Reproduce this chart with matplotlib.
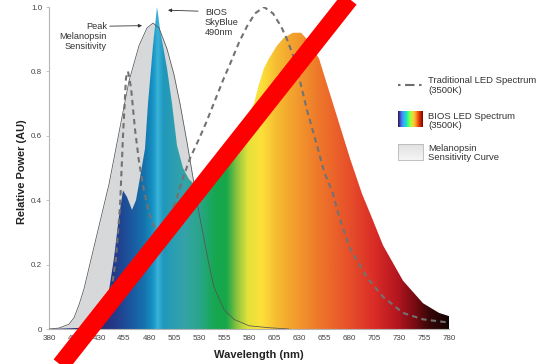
import numpy as np
import matplotlib
matplotlib.use('Agg')
import matplotlib.pyplot as plt
from matplotlib.colors import LinearSegmentedColormap, Normalize
from matplotlib.lines import Line2D

plt.rcParams['font.family'] = ['Liberation Sans', 'DejaVu Sans']

# melanopsin sensitivity curve
wl_mel = [380, 390, 400, 405, 410, 415, 420, 430, 440, 450, 460, 470, 478, 484, 490, 498,
          505, 511, 518, 524, 530, 535, 540, 545, 555, 565, 580, 600, 620]
mel = [0.0, 0.003, 0.015, 0.035, 0.075, 0.125, 0.19, 0.32, 0.45, 0.61, 0.77, 0.88, 0.935, 0.95,
       0.935, 0.87, 0.79, 0.70, 0.58, 0.47, 0.36, 0.28, 0.20, 0.13, 0.06, 0.03, 0.01, 0.004, 0.0]

# BIOS LED spectrum (3500K)
wl_bios = [380, 425, 430, 435, 440, 445, 450, 454, 458, 463, 467, 471, 476, 479, 484, 487, 488,
           489, 491, 498, 503, 508, 514, 520, 525, 532, 540, 550, 560, 570, 580, 585, 590, 595,
           600, 608, 615, 624, 632, 638, 644, 650, 658, 668, 681, 693, 701, 714, 734, 754, 770, 780]
bios = [0.0, 0.005, 0.015, 0.05, 0.12, 0.22, 0.35, 0.43, 0.41, 0.37, 0.40, 0.47, 0.56, 0.70, 0.88,
        0.97, 1.0, 0.98, 0.93, 0.81, 0.70, 0.57, 0.50, 0.465, 0.45, 0.43, 0.44, 0.49, 0.56, 0.62,
        0.67, 0.70, 0.76, 0.81, 0.84, 0.88, 0.905, 0.92, 0.92, 0.90, 0.87, 0.84, 0.76, 0.66, 0.53,
        0.42, 0.36, 0.26, 0.15, 0.08, 0.05, 0.04]

# traditional LED spectrum (3500K)
wl_trad = [420, 430, 437, 442, 447, 451, 454, 457, 459, 462, 466, 470, 475, 480, 486, 492, 500,
           507, 513, 521, 530, 537, 546, 555, 562, 570, 578, 586, 595, 604, 612, 618, 624, 631,
           638, 648, 655, 664, 670, 681, 698, 714, 734, 754, 780]
trad = [0.0, 0.01, 0.05, 0.11, 0.22, 0.38, 0.60, 0.78, 0.80, 0.75, 0.62, 0.52, 0.43, 0.36, 0.31,
        0.31, 0.35, 0.40, 0.46, 0.53, 0.59, 0.64, 0.71, 0.78, 0.83, 0.89, 0.94, 0.98, 1.0, 0.98,
        0.94, 0.90, 0.85, 0.77, 0.68, 0.57, 0.49, 0.42, 0.35, 0.25, 0.16, 0.10, 0.05, 0.03, 0.02]

x_ticks = np.arange(380, 781, 25)
y_ticks = [0, 0.2, 0.4, 0.6, 0.8, 1.0]
y_ticklabels = ['0', '0.2', '0.4', '0.6', '0.8', '1.0']

# spectral colours of the BIOS fill
spec_nm = [380, 430, 445, 460, 475, 483, 488, 494, 502, 515, 530, 545, 557, 566, 578, 592, 606,
           628, 652, 680, 705, 728, 745, 760, 780]
spec_col = ['#262b76', '#262b76', '#243a8a', '#1c559e', '#1574ad', '#1592c2', '#3ab3da', '#1f97bd',
            '#2a9db3', '#35a3a8', '#2aa58a', '#16a850', '#17a64a', '#7fbf40', '#e2e23a', '#fde13a',
            '#f7be32', '#f29a2d', '#ee742a', '#e74f2a', '#da2d27', '#b5161f', '#7a0c12', '#3a0707',
            '#120404']
cmap_spec = LinearSegmentedColormap.from_list(
    'spec', [((n - 380) / 400, c) for n, c in zip(spec_nm, spec_col)])

fig = plt.figure(figsize=(5.41, 3.64), dpi=100)
ax = fig.add_axes([49/541, 35/364, 400/541, 322/364])

ax.fill_between(wl_mel, mel, 0, color='#d6d8da', lw=0, zorder=1)
poly = ax.fill_between(wl_bios, bios, 0, color='none', lw=0, zorder=2)
grad = np.linspace(380, 780, 800)[None, :]
im = ax.imshow(grad, extent=[380, 780, 0, 1], aspect='auto', cmap=cmap_spec,
               norm=Normalize(380, 780), zorder=2, interpolation='bilinear')
im.set_clip_path(poly.get_paths()[0], transform=ax.transData)
ax.plot(wl_mel, mel, color='#555555', lw=0.55, zorder=3)
ax.plot(wl_trad, trad, color='#727272', lw=1.5, dashes=(2.6, 2.0), zorder=4)

ax.set_xlim(380, 780)
ax.set_ylim(0, 1.0)
ax.set_xticks(x_ticks)
ax.set_xticklabels([str(t) for t in x_ticks])
ax.set_yticks(y_ticks)
ax.set_yticklabels(y_ticklabels)
ax.tick_params('x', length=0, pad=4, labelsize=5.8, labelcolor='#444444')
ax.tick_params('y', length=2, width=0.6, color='#bbbbbb', pad=3, labelsize=5.8, labelcolor='#444444')
for s in ['top', 'right']:
    ax.spines[s].set_visible(False)
for s in ['left', 'bottom']:
    ax.spines[s].set_color('#b5b5b5')
    ax.spines[s].set_linewidth(0.8)

fig.text(259/541, 1 - 355/364, 'Wavelength (nm)', ha='center', va='center',
         fontsize=8, fontweight='bold', color='#222222')
fig.text(22/541, 1 - 171.5/364, 'Relative Power (AU)', ha='center', va='center',
         rotation=90, fontsize=7.9, fontweight='bold', color='#222222')

# annotations
ax.annotate('Peak\nMelanopsin\nSensitivity', xy=(473, 0.942), xytext=(438, 0.907),
            ha='right', va='center', fontsize=6.7, linespacing=1.15, color='#333333',
            arrowprops=dict(arrowstyle='-|>', color='#333333', lw=0.6, mutation_scale=5,
                            shrinkA=0, shrinkB=0, relpos=(1.0, 0.87)))
ax.annotate('BIOS\nSkyBlue\n490nm', xy=(499, 0.99), xytext=(536, 0.953),
            ha='left', va='center', fontsize=6.7, linespacing=1.15, color='#333333',
            annotation_clip=False,
            arrowprops=dict(arrowstyle='-|>', color='#333333', lw=0.6, mutation_scale=5,
                            shrinkA=3, shrinkB=0, relpos=(0.0, 0.87)))

# legend drawn by hand on the right
fig.add_artist(Line2D([398/541, 423/541], [1 - 85/364, 1 - 85/364], color='#6e6e6e', lw=1.5,
                      dashes=(1.2, 2.2, 4.5, 2.2)))
fig.text(428/541, 1 - 85.5/364, 'Traditional LED Spectrum\n(3500K)', ha='left', va='center',
         fontsize=6.8, linespacing=1.1, color='#333333')
axr = fig.add_axes([398/541, 1 - 127/364, 25/541, 16/364])
axr.imshow(np.linspace(0.1, 0.75, 100)[None, :], aspect='auto', cmap=plt.cm.turbo,
           interpolation='bilinear')
axr.set_axis_off()
fig.text(428/541, 1 - 121/364, 'BIOS LED Spectrum\n(3500K)', ha='left', va='center',
         fontsize=6.8, linespacing=1.1, color='#333333')
axg = fig.add_axes([398/541, 1 - 160/364, 25/541, 16/364])
axg.imshow(np.linspace(0.88, 0.96, 50)[:, None], aspect='auto', cmap=plt.cm.gray,
           vmin=0, vmax=1)
axg.set_xticks([])
axg.set_yticks([])
for s in axg.spines.values():
    s.set_color('#b8b8b8')
    s.set_linewidth(0.6)
fig.text(428/541, 1 - 153/364, 'Melanopsin\nSensitivity Curve', ha='left', va='center',
         fontsize=6.8, linespacing=1.1, color='#333333')

# red strike-through
fig.add_artist(Line2D([(61.5 - 0.789*30)/541, (348.7 + 0.789*30)/541], [-30/364, 1 + 30/364],
                      color='#ff0000', lw=13, solid_capstyle='butt', zorder=10))

fig.savefig('out.png', dpi=100)
